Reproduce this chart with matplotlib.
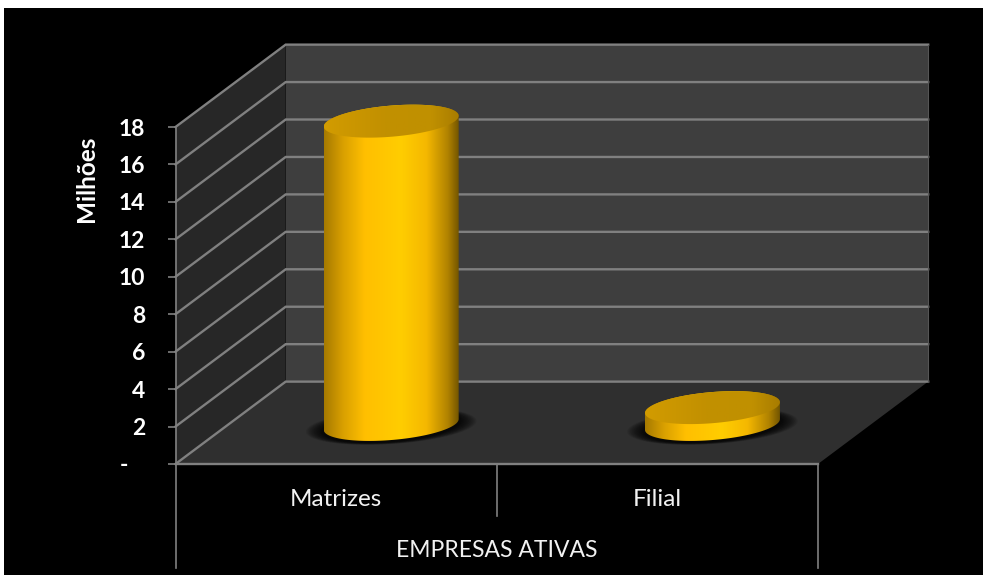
import numpy as np
import matplotlib
matplotlib.use('Agg')
import matplotlib.pyplot as plt
from matplotlib.colors import LinearSegmentedColormap
from matplotlib.patches import Polygon, Rectangle

plt.rcParams['font.family'] = ['Lato', 'DejaVu Sans']

# Datos (millones de empresas)
categorias = ['Matrizes', 'Filial']
valores = [16.2, 0.9]
valores_eje = [0, 2, 4, 6, 8, 10, 12, 14, 16, 18]
etiquetas_eje = ['-   ', '2', '4', '6', '8', '10', '12', '14', '16', '18']
titulo_y = 'Milhões'
titulo_x = 'EMPRESAS ATIVAS'

# Profundidad de la caja 3D en unidades de datos
PROF_X = 0.343
PROF_Y = 4.4
# Radios del cilindro: en categorias y en fraccion de la profundidad
RADIO = 0.1985
RADIO_PROF = 0.2

GRIS = '#808080'
cmap_lado = LinearSegmentedColormap.from_list('lado', [
    (0.00, '#a67a00'), (0.14, '#d9a000'), (0.30, '#ffbf00'), (0.57, '#ffcd00'),
    (0.76, '#f5b800'), (0.92, '#b08200'), (1.00, '#735500')])
cmap_tapa = LinearSegmentedColormap.from_list('tapa', [
    (0.00, '#d29c00'), (0.45, '#c29000'), (0.80, '#c09000'), (1.00, '#a87c00')])

fig = plt.figure(figsize=(9.83, 5.75), dpi=100, facecolor='white')
fig.patches.append(Rectangle((4 / 983, 0), 979 / 983, 567 / 575, transform=fig.transFigure,
                             facecolor='black', edgecolor='none', zorder=-10))

ax = fig.add_axes([175.5 / 983, (575 - 464) / 575, 642.5 / 983, 337 / 575])
ax.patch.set_visible(False)
for s in ax.spines.values():
    s.set_visible(False)


def fondo(x, prof, v):
    return x + PROF_X * prof, v + PROF_Y * prof


def cara(puntos, color):
    ax.add_patch(Polygon(puntos, closed=True, facecolor=color, edgecolor='none',
                         zorder=1, clip_on=False))


v_max = valores_eje[-1]
# Paredes y piso
cara([fondo(0, 1, 0), fondo(2, 1, 0), fondo(2, 1, v_max), fondo(0, 1, v_max)], '#3e3e3e')
cara([fondo(0, 0, 0), fondo(0, 1, 0), fondo(0, 1, v_max), fondo(0, 0, v_max)], '#272727')
cara([fondo(0, 0, 0), fondo(2, 0, 0), fondo(2, 1, 0), fondo(0, 1, 0)], '#2f2f2f')

# Lineas de la rejilla
for v in valores_eje:
    xs = [0, fondo(0, 1, v)[0], fondo(2, 1, v)[0]]
    ys = [v, fondo(0, 1, v)[1], fondo(2, 1, v)[1]]
    ax.plot(xs, ys, color=GRIS, lw=1.7, zorder=2, clip_on=False, solid_joinstyle='miter')
ax.plot([0, 2], [0, 0], color=GRIS, lw=1.7, zorder=2, clip_on=False)
ax.plot([fondo(2, 1, 0)[0]] * 2, [fondo(2, 1, 0)[1], fondo(2, 1, v_max)[1]],
        color='#555555', lw=0.8, zorder=2, clip_on=False)

# Eje vertical y separadores de categorias
tr = ax.get_xaxis_transform()
ax.plot([0, 0], [-0.309, 1], color=GRIS, lw=1.2, transform=tr, clip_on=False, zorder=3)
ax.plot([1, 1], [-0.154, 0], color=GRIS, lw=1.2, transform=tr, clip_on=False, zorder=3)
ax.plot([2, 2], [-0.309, 0], color=GRIS, lw=1.2, transform=tr, clip_on=False, zorder=3)


def elipse(xc, v, t, escala_a=1.0, escala_d=1.0):
    x = xc + RADIO * escala_a * np.cos(t) + RADIO_PROF * escala_d * PROF_X * np.sin(t)
    y = v + RADIO_PROF * escala_d * PROF_Y * np.sin(t)
    return np.column_stack([x, y])


def relleno(xc, v0, v1, cmap, clip, z):
    # Degradado horizontal recortado con la silueta
    rx = np.hypot(RADIO, RADIO_PROF * PROF_X)
    im = ax.imshow(np.linspace(0, 1, 256).reshape(1, -1), cmap=cmap, vmin=0, vmax=1,
                   extent=[xc - rx, xc + rx, v0, v1], aspect='auto',
                   interpolation='bilinear', zorder=z)
    ax.add_patch(clip)
    clip.set_visible(False)
    im.set_clip_path(clip)
    im.set_clip_box(fig.bbox)


def cilindro(xc, valor):
    # Centro de la base: a media profundidad en x, un poco mas cerca en y
    base_x = fondo(xc, 0.5, 0)[0]
    base_v = fondo(xc, 0.48, 0)[1]
    top_v = base_v + valor
    t_ext = np.arctan2(RADIO_PROF * PROF_X, RADIO)

    # Sombra difusa sobre el piso
    for k in np.linspace(1.0, 0.0, 16):
        pts = elipse(base_x, base_v - 0.1, np.linspace(0, 2 * np.pi, 120),
                     1 + 0.28 * k, 1 + 0.12 * k)
        ax.add_patch(Polygon(pts, closed=True, facecolor='black', edgecolor='none',
                             alpha=0.08, zorder=3, clip_on=False))

    abajo = elipse(base_x, base_v, np.linspace(t_ext + np.pi, t_ext + 2 * np.pi, 100))
    arriba = elipse(base_x, top_v, np.linspace(t_ext, t_ext + np.pi, 100))
    margen = 2 * RADIO_PROF * PROF_Y
    lado = Polygon(np.vstack([abajo, arriba]), closed=True, transform=ax.transData)
    relleno(base_x, base_v - margen, top_v + margen, cmap_lado, lado, 4)

    tapa = Polygon(elipse(base_x, top_v, np.linspace(0, 2 * np.pi, 200)), closed=True,
                   transform=ax.transData)
    relleno(base_x, top_v - margen, top_v + margen, cmap_tapa, tapa, 5)


posiciones = [i + 0.5 for i in range(len(categorias))]
for xc, valor in zip(posiciones, valores):
    cilindro(xc, valor)

ax.set_xlim(0, 2)
ax.set_ylim(0, v_max)

ax.set_yticks(valores_eje)
ax.set_yticklabels(etiquetas_eje, fontsize=16.5, fontweight='bold', color='white')
ax.tick_params(axis='y', length=6, width=1.2, color=GRIS, pad=16)
ax.set_xticks(posiciones)
ax.set_xticklabels(categorias, fontsize=17.5, color='#f2f2f2')
ax.tick_params(axis='x', length=0, pad=18)

ax.set_ylabel(titulo_y, fontsize=17.5, fontweight='bold', color='white')
ax.yaxis.set_label_coords(-0.121, 0.846)
ax.text(1, -0.258, titulo_x, transform=tr, ha='center', va='center',
        fontsize=16.5, color='#f2f2f2')

fig.savefig('out.png', dpi=100, facecolor=fig.get_facecolor())
